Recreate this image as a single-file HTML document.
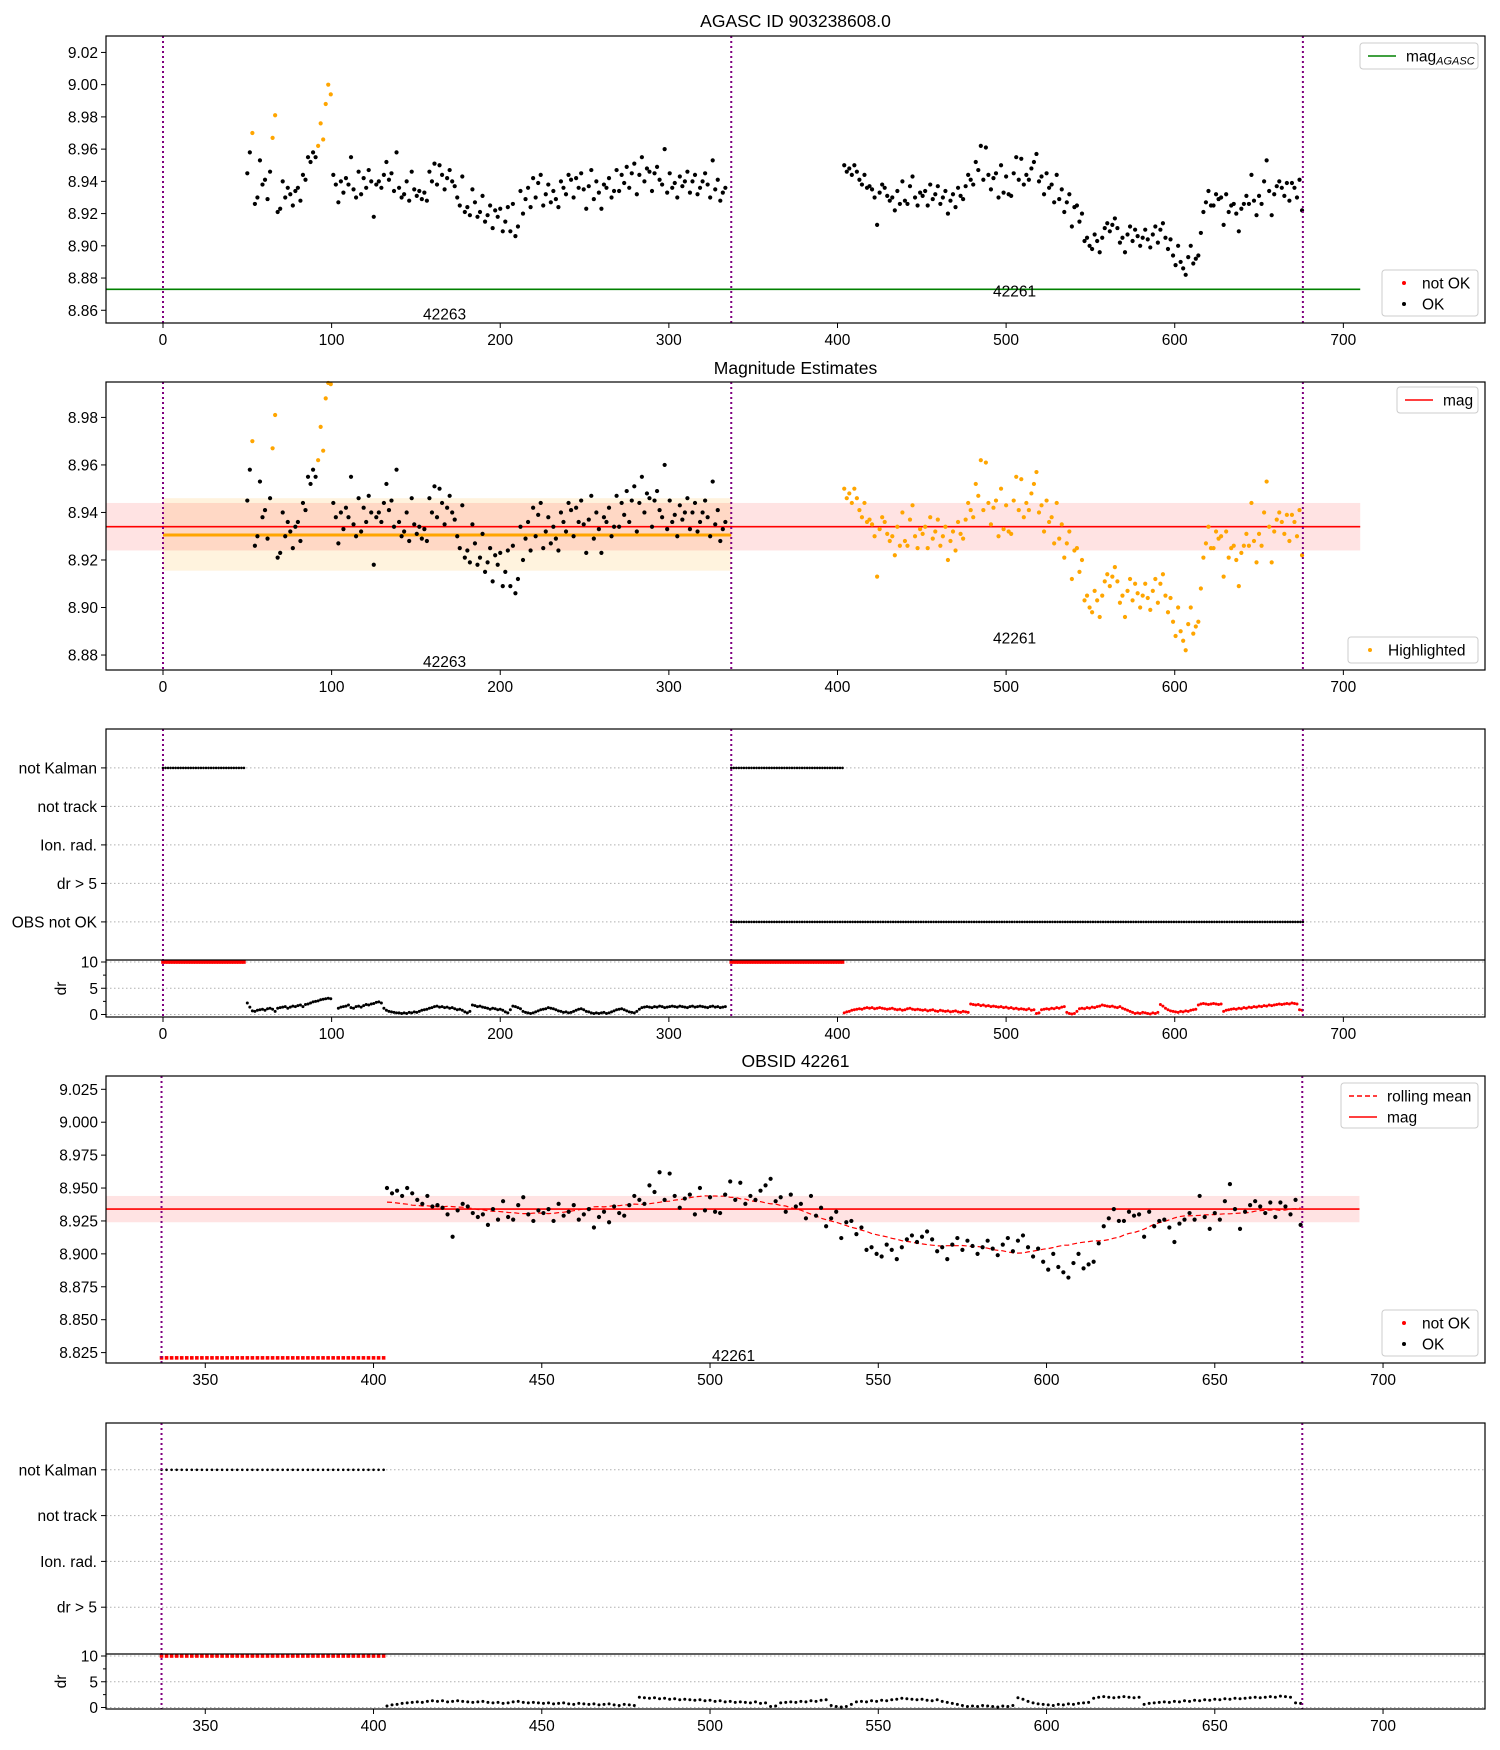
<!DOCTYPE html>
<html><head><meta charset="utf-8"><style>
html,body{margin:0;padding:0;background:#fff}
svg{display:block;font-family:"Liberation Sans","DejaVu Sans",sans-serif}
</style></head><body>
<svg id="fig" width="1500" height="1750" viewBox="0 0 1500 1750" xmlns="http://www.w3.org/2000/svg"></svg>
<script>
// ---- data ----
const obsA = 42263, obsB = 42261;
const tStartA = 50, tStartB = 404, tStep = 1.5;
const magA = [
8.945,8.958,8.970,8.926,8.930,8.953,8.938,8.941,8.929,8.946,
8.967,8.981,8.921,8.923,8.940,8.930,8.936,8.932,8.925,8.934,
8.936,8.928,8.944,8.941,8.955,8.952,8.958,8.955,8.962,8.976,
8.966,8.988,9.000,8.994,8.944,8.938,8.927,8.940,8.933,8.942,
8.938,8.955,8.935,8.930,8.946,8.932,8.942,8.936,8.947,8.940,
8.918,8.938,8.940,8.936,8.944,8.952,8.941,8.945,8.934,8.958,
8.936,8.930,8.932,8.940,8.928,8.946,8.935,8.931,8.934,8.929,
8.933,8.928,8.946,8.940,8.951,8.938,8.950,8.944,8.935,8.942,
8.947,8.940,8.937,8.930,8.925,8.943,8.921,8.924,8.919,8.935,
8.927,8.918,8.921,8.931,8.915,8.919,8.925,8.911,8.922,8.918,
8.923,8.909,8.915,8.924,8.909,8.926,8.906,8.912,8.934,8.920,
8.929,8.936,8.924,8.942,8.930,8.939,8.944,8.925,8.932,8.938,
8.927,8.934,8.929,8.924,8.940,8.936,8.932,8.944,8.941,8.930,
8.942,8.936,8.945,8.935,8.923,8.937,8.947,8.929,8.940,8.933,
8.923,8.938,8.936,8.942,8.930,8.934,8.947,8.934,8.944,8.939,
8.949,8.936,8.945,8.951,8.932,8.944,8.955,8.940,8.948,8.946,
8.934,8.945,8.949,8.941,8.938,8.960,8.933,8.945,8.936,8.939,
8.930,8.943,8.937,8.940,8.946,8.933,8.940,8.944,8.932,8.936,
8.940,8.945,8.938,8.930,8.953,8.935,8.941,8.928,8.933,8.936];
const magB = [
8.950,8.946,8.948,8.944,8.950,8.946,8.941,8.938,8.944,8.936,
8.937,8.935,8.930,8.913,8.933,8.938,8.936,8.931,8.928,8.930,
8.922,8.934,8.926,8.940,8.928,8.926,8.937,8.943,8.930,8.925,
8.933,8.931,8.934,8.925,8.938,8.929,8.932,8.937,8.926,8.930,
8.934,8.920,8.928,8.932,8.924,8.936,8.931,8.929,8.937,8.944,
8.941,8.938,8.952,8.947,8.962,8.941,8.961,8.944,8.935,8.942,
8.945,8.930,8.950,8.933,8.943,8.932,8.931,8.945,8.955,8.941,
8.954,8.938,8.944,8.941,8.948,8.952,8.957,8.940,8.943,8.932,
8.945,8.936,8.938,8.927,8.944,8.929,8.935,8.921,8.927,8.932,
8.912,8.924,8.925,8.915,8.920,8.903,8.905,8.900,8.898,8.907,
8.903,8.896,8.905,8.911,8.914,8.909,8.913,8.917,8.911,8.902,
8.905,8.896,8.907,8.912,8.903,8.910,8.906,8.900,8.905,8.910,
8.904,8.899,8.907,8.912,8.902,8.910,8.914,8.905,8.898,8.904,
8.894,8.888,8.900,8.890,8.886,8.882,8.893,8.900,8.889,8.892,
8.894,8.908,8.921,8.927,8.934,8.925,8.925,8.932,8.929,8.930,
8.913,8.932,8.921,8.925,8.926,8.920,8.909,8.923,8.926,8.931,
8.926,8.944,8.928,8.919,8.931,8.926,8.940,8.953,8.934,8.919,
8.932,8.937,8.940,8.936,8.931,8.939,8.928,8.939,8.936,8.930,
8.941,8.922];
const drA = [
2.2,1.4,0.7,0.6,0.8,0.9,1.0,0.8,1.1,1.2,
1.0,0.6,1.2,1.3,1.4,1.5,1.2,1.4,1.6,1.5,
1.7,1.8,1.5,1.9,2.0,2.2,2.4,2.5,2.6,2.8,
2.9,3.0,3.1,3.0,null,null,1.2,1.4,1.5,1.6,
1.8,1.3,1.2,1.5,1.6,1.4,1.7,1.9,1.8,2.0,
2.1,2.3,2.4,2.2,1.2,0.8,0.6,0.5,0.4,0.3,
0.3,0.2,0.3,0.2,0.4,0.3,0.5,0.4,0.6,0.8,
0.9,1.0,1.2,1.3,1.5,1.6,1.4,1.5,1.3,1.4,
1.2,1.3,1.1,0.9,1.0,0.8,0.5,0.3,0.6,1.8,
1.7,1.5,1.6,1.4,1.3,1.2,1.0,1.2,1.1,0.9,
1.0,0.8,0.5,0.3,0.9,1.6,1.5,1.3,1.1,0.6,
0.4,0.3,0.2,0.3,0.5,0.7,0.9,1.0,1.1,1.3,
1.2,1.1,0.9,0.7,0.6,0.4,0.5,0.3,0.4,0.6,
0.8,1.0,1.1,0.9,0.6,0.5,0.3,0.2,0.3,0.2,
0.3,0.4,0.2,0.3,0.5,0.7,0.9,1.0,1.1,0.9,
0.7,0.5,0.4,0.3,0.6,1.0,1.3,1.4,1.5,1.4,
1.3,1.5,1.4,1.6,1.5,1.3,1.4,1.5,1.6,1.5,
1.4,1.6,1.5,1.4,1.3,1.5,1.6,1.4,1.5,1.6,
1.5,1.4,1.3,1.5,1.6,1.4,1.5,1.3,1.4,1.5];
const drB = [
0.3,0.5,0.6,0.8,0.9,1.0,1.1,1.0,1.2,1.3,
1.2,1.3,1.1,1.2,1.3,1.2,1.1,1.0,1.1,1.2,
1.0,0.9,1.0,0.8,0.9,1.1,1.2,1.0,0.9,1.0,
0.9,0.8,0.9,0.7,0.8,0.9,0.7,0.6,0.8,0.7,
0.6,0.7,0.5,0.6,0.7,0.5,0.4,0.6,0.5,0.4,
2.0,1.9,1.8,1.9,1.7,1.8,1.6,1.7,1.5,1.6,
1.5,1.4,1.5,1.3,1.4,1.2,1.3,1.1,1.2,1.0,
1.1,1.0,0.9,1.1,0.8,0.9,0.2,0.3,0.9,1.0,
1.1,1.0,1.2,1.1,1.3,1.2,1.4,1.5,0.4,0.2,
0.1,0.2,0.6,1.1,1.2,1.1,1.3,1.2,1.4,1.3,
1.5,1.6,1.8,1.7,1.6,1.5,1.6,1.4,1.3,1.5,
1.2,1.0,0.8,0.6,0.4,0.2,0.3,0.2,0.4,0.3,
0.2,0.1,0.3,0.2,0.4,1.9,1.6,1.2,0.9,0.7,
0.6,0.5,0.4,0.6,0.5,0.7,0.6,0.8,0.9,1.0,
1.8,2.0,2.1,2.0,1.9,2.0,2.1,2.0,1.9,2.0,
0.6,0.8,0.9,1.0,1.1,1.0,1.2,1.1,1.3,1.2,
1.4,1.3,1.5,1.4,1.6,1.5,1.7,1.6,1.8,1.7,
1.8,1.9,2.0,1.9,2.0,2.1,2.0,2.2,2.1,2.0,
0.9,0.8];
const obsBounds = [0, 337, 676];
const notKalmanStart = [0, 337];
const notKalmanEnd = [48, 404];
const obsNotOkStart = [337];
const obsNotOkEnd = [676];
const magAgasc = 8.873;
const magMean = 8.934, magLo = 8.924, magHi = 8.944;
const magA_mean = 8.9305, magA_lo = 8.9155, magA_hi = 8.946;
const bandEnd = 710, bandEnd4 = 693;
const flagCats = ["not Kalman","not track","Ion. rad.","dr > 5","OBS not OK"];
const ticks13 = [0,100,200,300,400,500,600,700];
const ticks45 = [350,400,450,500,550,600,650,700];
const yTicks1 = [8.86,8.88,8.90,8.92,8.94,8.96,8.98,9.00,9.02];
const yTicks2 = [8.88,8.90,8.92,8.94,8.96,8.98];
const yTicks4 = [8.825,8.850,8.875,8.900,8.925,8.950,8.975,9.000,9.025];
const drTicks = [0,5,10];

// ---- helpers ----
const NS = "http://www.w3.org/2000/svg";
const fig = document.getElementById("fig");
const FS = 15.5;
function mk(tag, attrs, parent){const e=document.createElementNS(NS,tag);for(const k in attrs)e.setAttribute(k,attrs[k]);(parent||fig).appendChild(e);return e;}
function lin(d0,d1,r0,r1){return v=>r0+(v-d0)*(r1-r0)/(d1-d0);}
const tA = magA.map((_,i)=>tStartA+i*tStep);
const tB = magB.map((_,i)=>tStartB+i*tStep);
function rangePts(s,e){const o=[];for(let t=s;t<=e+1e-9;t+=tStep)o.push(t);return o;}
const X13 = lin(-33.8,784,106,1485);
const X45 = lin(320.5,730.3,106,1485);
const L=106,R=1485;

function frame(top,bot,name){
  const r=mk("rect",{x:L,y:top,width:R-L,height:bot-top,fill:"none",stroke:"#000","stroke-width":1.2});
  
  
}
function xticks(X,ticks,bot,name){
  const g=mk("g",{});
  
  
  ticks.forEach(v=>{const x=X(v);mk("line",{x1:x,x2:x,y1:bot,y2:bot+5,stroke:"#000"},g);
    const t=mk("text",{x:x,y:bot+22,"font-size":FS,"text-anchor":"middle",fill:"#000"},g);t.textContent=v;});
}
function yticks(Y,ticks,dec,name){
  const g=mk("g",{});
  
  
  ticks.forEach(v=>{const y=Y(v);mk("line",{x1:L-5,x2:L,y1:y,y2:y,stroke:"#000"},g);
    const t=mk("text",{x:L-8,y:y+5.5,"font-size":FS,"text-anchor":"end",fill:"#000"},g);t.textContent=v.toFixed(dec);});
}
function title(txt,y,name){const t=mk("text",{x:(L+R)/2,y:y,"font-size":17.5,"text-anchor":"middle",fill:"#000"});t.textContent=txt;
  
  }
function vlines(X,vals,top,bot){vals.forEach(v=>{const l=mk("line",{x1:X(v),x2:X(v),y1:top,y2:bot,stroke:"#800080","stroke-width":2,"stroke-dasharray":"2,3"});
  
  });}
function dots(X,Y,ts,vs,colorFn,r,name){
  const g=mk("g",{});
  
  
  ts.forEach((t,i)=>{if(vs[i]==null)return;const x=X(t);if(x<L||x>R)return;mk("circle",{cx:x,cy:Y(vs[i]),r:r,fill:colorFn(t,vs[i])},g);});
  return g;
}
function label(txt,x,y,name){const t=mk("text",{x:x,y:y,"font-size":FS,"text-anchor":"middle",fill:"#000"});t.textContent=txt;
  
  }
function legend(x,y,w,h,items,name){
  const g=mk("g",{});
  
  
  mk("rect",{x:x,y:y,width:w,height:h,rx:3,fill:"#fff","fill-opacity":0.85,stroke:"#ccc"},g);
  items.forEach((it,i)=>{const cy=y+13+i*21;
    if(it.type==="line")mk("line",{x1:x+8,x2:x+36,y1:cy,y2:cy,stroke:it.c,"stroke-width":1.6,"stroke-dasharray":it.dash||""},g);
    else mk("circle",{cx:x+22,cy:cy,r:2,fill:it.c},g);
    const t=mk("text",{x:x+(it.type==="line"?46:40),y:cy+5.5,"font-size":FS,"text-anchor":"start",fill:"#000"},g);
    if(it.sub){t.textContent=it.label;const s=mk("tspan",{"font-size":11,"font-style":"italic",dy:3},t);s.textContent=it.sub;}
    else t.textContent=it.label;});
}

// ---- Panel 1 ----
{
  const top=36,bot=323;const Y=lin(8.8521,9.0302,bot,top);
  title("AGASC ID 903238608.0",27,"panel1-title");
  const l=mk("line",{x1:L,x2:X13(bandEnd),y1:Y(magAgasc),y2:Y(magAgasc),stroke:"#008000","stroke-width":1.6});
  
  
  dots(X13,Y,tA,magA,(t,v)=>(t<100&&v>=8.96)?"#ffa500":"#000",2.1,"panel1-points-42263");
  dots(X13,Y,tB,magB,()=>"#000",2.1,"panel1-points-42261");
  vlines(X13,obsBounds,top,bot);
  label(String(obsA),X13(167),Y(8.8575)+5,"panel1-obs-label-a");
  label(String(obsB),X13(505),Y(8.8715)+5,"panel1-obs-label-b");
  frame(top,bot,"panel1-axes");
  xticks(X13,ticks13,bot,"panel1-x-axis");yticks(Y,yTicks1,2,"panel1-y-axis");
  legend(1360,43,118,26,[{type:"line",c:"#008000",label:"mag",sub:"AGASC"}],"panel1-legend-top");
  legend(1382,270,96,46,[{type:"dot",c:"#f00",label:"not OK"},{type:"dot",c:"#000",label:"OK"}],"panel1-legend-bottom");
}
// ---- Panel 2 ----
{
  const top=382,bot=670;const Y=lin(8.8737,8.9949,bot,top);
  title("Magnitude Estimates",374,"panel2-title");
  const b1=mk("rect",{x:X13(0),y:Y(magA_hi),width:X13(337)-X13(0),height:Y(magA_lo)-Y(magA_hi),fill:"#ffa500","fill-opacity":0.13});
  
  
  const b2=mk("rect",{x:L,y:Y(magHi),width:X13(bandEnd)-L,height:Y(magLo)-Y(magHi),fill:"#ff0000","fill-opacity":0.11});
  
  
  const l1=mk("line",{x1:L,x2:X13(bandEnd),y1:Y(magMean),y2:Y(magMean),stroke:"#f00","stroke-width":1.6});
  
  
  const l2=mk("line",{x1:X13(0),x2:X13(337),y1:Y(magA_mean),y2:Y(magA_mean),stroke:"#ffa500","stroke-width":3});
  
  
  const vA=magA.map(v=>Math.min(v,8.9945));
  dots(X13,Y,tA,vA,(t,v)=>(t<100&&v>=8.96)?"#ffa500":"#000",2.1,"panel2-points-42263");
  dots(X13,Y,tB,magB,()=>"#ffa500",2.1,"panel2-points-42261");
  vlines(X13,obsBounds,top,bot);
  label(String(obsA),X13(167),Y(8.877)+5,"panel2-obs-label-a");
  label(String(obsB),X13(505),Y(8.887)+5,"panel2-obs-label-b");
  frame(top,bot,"panel2-axes");
  xticks(X13,ticks13,bot,"panel2-x-axis");yticks(Y,yTicks2,2,"panel2-y-axis");
  legend(1397,387,81,26,[{type:"line",c:"#f00",label:"mag"}],"panel2-legend-top");
  legend(1348,637,130,26,[{type:"dot",c:"#ffa500",label:"Highlighted"}],"panel2-legend-bottom");
}
// ---- flag panels ----
function flagPanel(cfg){
  const {top,mid,bot,X,catY0,catDy,nCats,drY10,drY0,ticks,tag,drColorB,showA}=cfg;
  const catY=i=>catY0+i*catDy;
  const DY=lin(0,10,drY0,drY10);
  const g=mk("g",{});
  
  
  for(let i=0;i<nCats;i++){mk("line",{x1:L,x2:R,y1:catY(i),y2:catY(i),stroke:"#b0b0b0","stroke-dasharray":"1.5,2.5"},g);
    mk("line",{x1:L-5,x2:L,y1:catY(i),y2:catY(i),stroke:"#000"},g);
    const t=mk("text",{x:L-9,y:catY(i)+5.5,"font-size":FS,"text-anchor":"end"},g);t.textContent=flagCats[i];}
  drTicks.forEach(v=>{mk("line",{x1:L,x2:R,y1:DY(v),y2:DY(v),stroke:"#b0b0b0","stroke-dasharray":"1.5,2.5"},g);
    mk("line",{x1:L-5,x2:L,y1:DY(v),y2:DY(v),stroke:"#000"},g);
    const t=mk("text",{x:L-8,y:DY(v)+5.5,"font-size":FS,"text-anchor":"end"},g);t.textContent=v;});
  [2.5,7.5].forEach(v=>mk("line",{x1:L-3,x2:L,y1:DY(v),y2:DY(v),stroke:"#000"},g));
  const yl=mk("text",{x:0,y:0,"font-size":FS,"text-anchor":"middle",transform:`translate(${L-40},${(mid+bot)/2}) rotate(-90)`});
  yl.textContent="dr";
  
  
  const fg=mk("g",{});
  
  
  notKalmanStart.forEach((s,k)=>{rangePts(s,notKalmanEnd[k]).forEach(t=>{if(X(t)<L)return;
    mk("circle",{cx:X(t),cy:catY(0),r:1.3,fill:"#000"},fg);
    mk("rect",{x:X(t)-1.8,y:DY(10)-1.8,width:3.6,height:3.6,fill:"#f00"},fg);});});
  if(nCats>4) obsNotOkStart.forEach((s,k)=>{rangePts(s,obsNotOkEnd[k]).forEach(t=>mk("circle",{cx:X(t),cy:catY(4),r:1.3,fill:"#000"},fg));});
  if(showA) dots(X,DY,tA,drA,()=>"#000",1.5,tag+'-dr-points-42263');
  dots(X,DY,tB,drB,()=>drColorB,1.5,tag+'-dr-points-42261');
  vlines(X,obsBounds.filter(v=>X(v)>=L),top,bot);
  frame(top,bot,tag+'-axes');
  const d=mk("line",{x1:L,x2:R,y1:mid,y2:mid,stroke:"#000","stroke-width":1.2});
  
  
  xticks(X,ticks,bot,tag+'-x-axis');
}
flagPanel({top:729,mid:960,bot:1017,X:X13,catY0:767.9,catDy:38.5,nCats:5,drY10:962,drY0:1014.5,ticks:ticks13,tag:"panel3",drColorB:"#f00",showA:true});
// ---- Panel 4 ----
{
  const top=1076,bot=1363;const Y=lin(8.8171,9.0351,bot,top);
  title("OBSID 42261",1067,"panel4-title");
  const b=mk("rect",{x:L,y:Y(magHi),width:X45(bandEnd4)-L,height:Y(magLo)-Y(magHi),fill:"#ff0000","fill-opacity":0.11});
  
  
  const l=mk("line",{x1:L,x2:X45(bandEnd4),y1:Y(magMean),y2:Y(magMean),stroke:"#f00","stroke-width":1.6});
  
  
  const w=15;const pts=tB.map((t,i)=>{let s=0,n=0;for(let j=Math.max(0,i-w);j<=Math.min(magB.length-1,i+w);j++){s+=magB[j];n++;}return X45(t).toFixed(1)+","+Y(s/n).toFixed(1);});
  const p=mk("polyline",{points:pts.join(" "),fill:"none",stroke:"#f00","stroke-width":1.2,"stroke-dasharray":"5,3"});
  
  
  dots(X45,Y,tB,magB,()=>"#000",2.1,"panel4-points-42261");
  const rg=mk("g",{});
  
  
  rangePts(notKalmanStart[1],notKalmanEnd[1]).forEach(t=>mk("rect",{x:X45(t)-1.8,y:Y(8.821)-1.8,width:3.6,height:3.6,fill:"#f00"},rg));
  vlines(X45,[337,676],top,bot);
  label(String(obsB),X45(507),Y(8.8225)+5,"panel4-obs-label");
  frame(top,bot,"panel4-axes");
  xticks(X45,ticks45,bot,"panel4-x-axis");yticks(Y,yTicks4,3,"panel4-y-axis");
  legend(1341,1083,137,45,[{type:"line",c:"#f00",label:"rolling mean",dash:"5,3"},{type:"line",c:"#f00",label:"mag"}],"panel4-legend-top");
  legend(1382,1310,96,46,[{type:"dot",c:"#f00",label:"not OK"},{type:"dot",c:"#000",label:"OK"}],"panel4-legend-bottom");
}
flagPanel({top:1423,mid:1654,bot:1709,X:X45,catY0:1469.8,catDy:45.8,nCats:4,drY10:1656,drY0:1707.5,ticks:ticks45,tag:"panel5",drColorB:"#000",showA:false});
</script>
</body></html>
